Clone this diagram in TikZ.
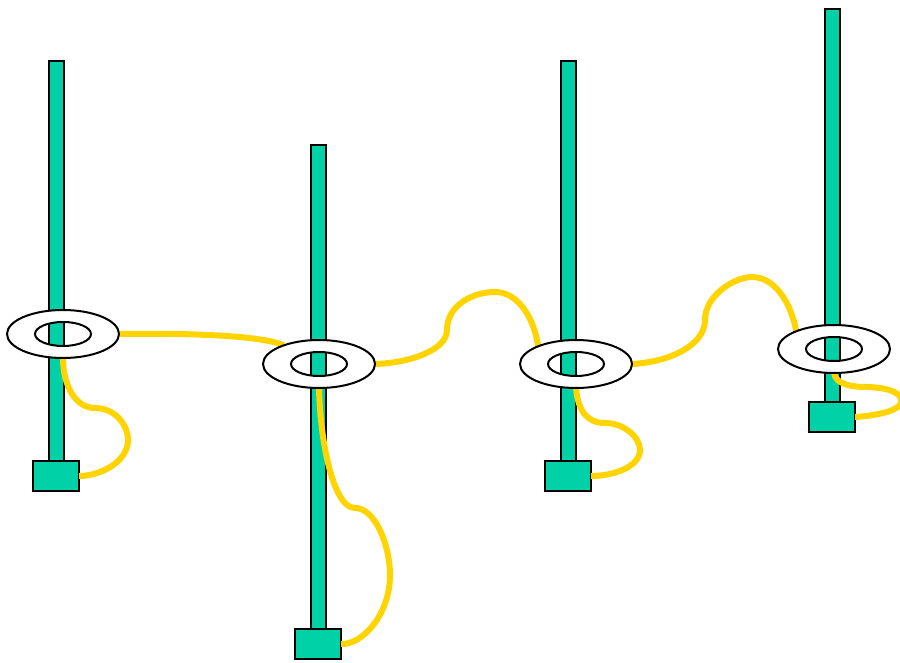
\documentclass[tikz,border=0pt]{standalone}
\usetikzlibrary{positioning,shapes.geometric}
\definecolor{poleteal}{RGB}{0,209,167}
\definecolor{cableyellow}{RGB}{255,212,0}
\tikzset{
  pole/.style={draw, fill=poleteal, line width=1pt, minimum width=7.5pt, inner sep=0pt, outer sep=0pt},
  base/.style={draw, fill=poleteal, line width=1pt, minimum width=23pt, minimum height=15pt, inner sep=0pt, outer sep=0pt},
  ring/.style={ellipse, minimum width=56pt, minimum height=24pt, inner sep=0pt, outer sep=0pt},
  cable/.style={cableyellow, line width=3pt},
}

\begin{document}
\begin{tikzpicture}[x=0.5pt, y=-0.5pt]
        \useasboundingbox (0,0) rectangle (900,663);
        \node [ring] (R1) at (63,334) {};
        \node [ring] (R2) at (319,364) {};
        \node [ring] (R3) at (576,364) {};
        \node [ring] (R4) at (834,349) {};
        \node [base] (B1) at (56,476) {};
        \node [base] (B2) at (318,644) {};
        \node [base] (B3) at (568,476) {};
        \node [base] (B4) at (832,417) {};
        \node [pole, minimum height=200pt, above=0pt of B1] (P1) {};
        \node [pole, minimum height=242pt, above=0pt of B2] (P2) {};
        \node [pole, minimum height=200pt, above=0pt of B3] (P3) {};
        \node [pole, minimum height=196.5pt, above=0pt of B4] (P4) {};
        \draw [cable] (R1.east) .. controls (200,333) and (262,336) .. (R2.152);
        \draw [cable] (R2.east) .. controls (410,363) and (447,350) .. (447,330) .. controls (447,305) and (473,292) .. (495,292) .. controls (520,292) and (535,322) .. (R3.155);
        \draw [cable] (R3.east) .. controls (670,362) and (705,345) .. (705,320) .. controls (705,295) and (735,277) .. (752,277) .. controls (778,277) and (793,310) .. (R4.155);
        \draw [cable] (R4.south) .. controls (836,385) and (852,387) .. (868,387) .. controls (895,388) and (905,396) .. (900,405) .. controls (893,413) and (870,416) .. (B4.east);
        \draw [cable] (R1.south) .. controls (63,385) and (75,408) .. (95,408) .. controls (115,408) and (128,425) .. (128,440) .. controls (128,462) and (100,476) .. (B1.east);
        \draw [cable] (R2.south) .. controls (320,440) and (333,508) .. (355,508) .. controls (375,508) and (390,545) .. (390,575) .. controls (390,615) and (362,645) .. (B2.east);
        \draw [cable] (R3.south) .. controls (578,412) and (588,423) .. (605,423) .. controls (625,423) and (640,438) .. (640,450) .. controls (640,466) and (615,476) .. (B3.east);
        \foreach \r in {R1,R2,R3,R4} {
          \fill [white, even odd rule] (\r) ellipse [x radius=28pt, y radius=12pt] (\r) ellipse [x radius=14pt, y radius=6pt];
          \draw [line width=1pt] (\r) ellipse [x radius=28pt, y radius=12pt] (\r) ellipse [x radius=14pt, y radius=6pt];
        }
      \end{tikzpicture}
\end{document}
